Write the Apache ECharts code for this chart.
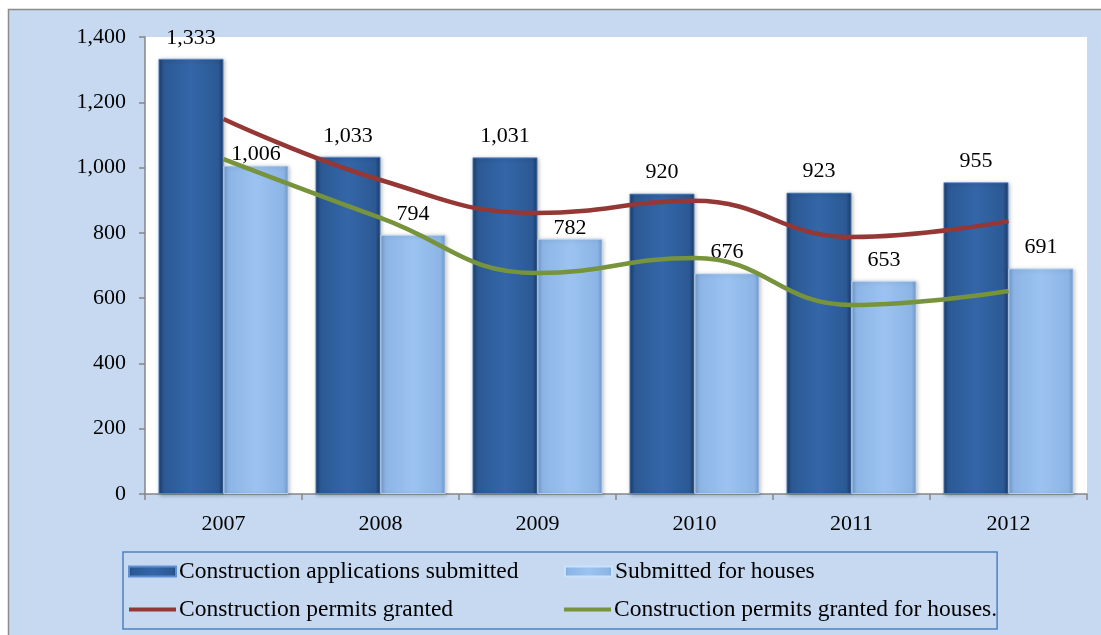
<!DOCTYPE html>
<html>
<head>
<meta charset="utf-8">
<script src="https://cdn.jsdelivr.net/npm/echarts@6/dist/echarts.min.js"></script>
<style>
  html, body { margin: 0; padding: 0; background: #fff; }
  #main { width: 1101px; height: 635px; }
</style>
</head>
<body>
<div id="main"></div>
<script>
// 数据
var years = ['2007', '2008', '2009', '2010', '2011', '2012'];
var applications = [1333, 1033, 1031, 920, 923, 955];
var housesSubmitted = [1006, 794, 782, 676, 653, 691];
var permitsGranted = [1149, 962, 861, 898, 787, 836];
var permitsHouses = [1026, 846, 677, 723, 579, 622];
var yTicks = [0, 200, 400, 600, 800, 1000, 1200, 1400];

var font = 'Liberation Serif';
var lineIcon = 'path://M0,0H47V4H0Z';

function fmt(v) {
    return String(v).replace(/\B(?=(\d{3})+(?!\d))/g, ',');
}

function barGrad(edge, mid, center) {
    return new echarts.graphic.LinearGradient(0, 0, 1, 0, [
        { offset: 0, color: edge },
        { offset: 0.08, color: mid },
        { offset: 0.5, color: center },
        { offset: 0.92, color: mid },
        { offset: 1, color: edge }
    ]);
}

function initEcharts() {
    var myChart = echarts.init(document.getElementById('main'));

    // 两个标签贴近柱顶（原图中被挪过）
    var closeLabels = [0, 2];
    var housesData = housesSubmitted.map(function (v, i) {
        if (closeLabels.indexOf(i) >= 0) {
            return { value: v, label: { distance: 0 } };
        }
        return v;
    });

    var option = {
        backgroundColor: '#fff',
        animation: false,
        graphic: [{
            type: 'rect',
            z: -10,
            shape: { x: 8.5, y: 9.5, width: 1100, height: 630 },
            style: { fill: '#c6d9f1', stroke: '#8c8c8c', lineWidth: 1.5 }
        }],
        grid: {
            left: 145,
            right: 14,
            top: 37,
            bottom: 141,
            show: true,
            backgroundColor: '#fff',
            borderWidth: 0
        },
        legend: {
            left: 123,
            top: 552,
            width: 900,
            itemGap: 3,
            itemWidth: 47,
            itemHeight: 10,
            padding: [2, 0, 2, 5],
            borderColor: '#4f81bd',
            borderWidth: 1.5,
            textStyle: {
                fontFamily: font,
                fontSize: 23.5,
                color: '#000',
                width: 382,
                lineHeight: 35,
                padding: [0, 0, 0, -2]
            },
            data: [
                { name: 'Construction applications submitted', icon: 'rect' },
                { name: 'Submitted for houses', icon: 'rect' },
                { name: 'Construction permits granted', icon: lineIcon },
                { name: 'Construction permits granted for houses.', icon: lineIcon }
            ]
        },
        xAxis: {
            type: 'category',
            data: years,
            axisLine: { lineStyle: { color: '#868686', width: 1.5 } },
            axisTick: { show: true, length: 6, lineStyle: { color: '#868686', width: 1.5 } },
            axisLabel: { fontFamily: font, fontSize: 22, color: '#000', margin: 19 }
        },
        yAxis: {
            type: 'value',
            min: yTicks[0],
            max: yTicks[yTicks.length - 1],
            interval: 200,
            splitLine: { show: false },
            axisLine: { show: true, lineStyle: { color: '#868686', width: 1.5 } },
            axisTick: { show: true, length: 6, lineStyle: { color: '#868686', width: 1.5 } },
            axisLabel: {
                fontFamily: font,
                fontSize: 22,
                color: '#000',
                margin: 19,
                formatter: function (v) { return fmt(v); }
            }
        },
        series: [{
            name: 'Construction applications submitted',
            type: 'bar',
            data: applications,
            barWidth: 65,
            barGap: '0%',
            itemStyle: {
                color: barGrad('#1d3c68', '#2b5994', '#3466a8'),
                borderColor: '#5d8fd1',
                borderWidth: 0.8,
                shadowColor: 'rgba(0,0,0,0.3)',
                shadowBlur: 4,
                shadowOffsetX: 1,
                shadowOffsetY: 1
            },
            label: {
                show: true,
                position: 'top',
                distance: 10,
                fontFamily: font,
                fontSize: 22,
                color: '#000',
                formatter: function (p) { return fmt(p.value); }
            },
            z: 2
        }, {
            name: 'Submitted for houses',
            type: 'bar',
            data: housesData,
            barWidth: 65,
            barGap: '0%',
            itemStyle: {
                color: barGrad('#7299cb', '#8cb5e6', '#9cc3f0'),
                borderColor: '#c9e2fb',
                borderWidth: 0.8,
                shadowColor: 'rgba(0,0,0,0.25)',
                shadowBlur: 4,
                shadowOffsetX: 1,
                shadowOffsetY: 1
            },
            label: {
                show: true,
                position: 'top',
                distance: 10,
                fontFamily: font,
                fontSize: 22,
                color: '#000',
                formatter: function (p) { return fmt(p.value); }
            },
            z: 2
        }, {
            name: 'Construction permits granted',
            type: 'line',
            data: permitsGranted,
            smooth: 0.45,
            symbol: 'none',
            itemStyle: { color: '#953735' },
            lineStyle: { color: '#953735', width: 4.5 },
            z: 5
        }, {
            name: 'Construction permits granted for houses.',
            type: 'line',
            data: permitsHouses,
            smooth: 0.45,
            symbol: 'none',
            itemStyle: { color: '#77933c' },
            lineStyle: { color: '#77933c', width: 4.5 },
            z: 5
        }]
    };

    myChart.setOption(option);
}

initEcharts();
</script>
</body>
</html>
